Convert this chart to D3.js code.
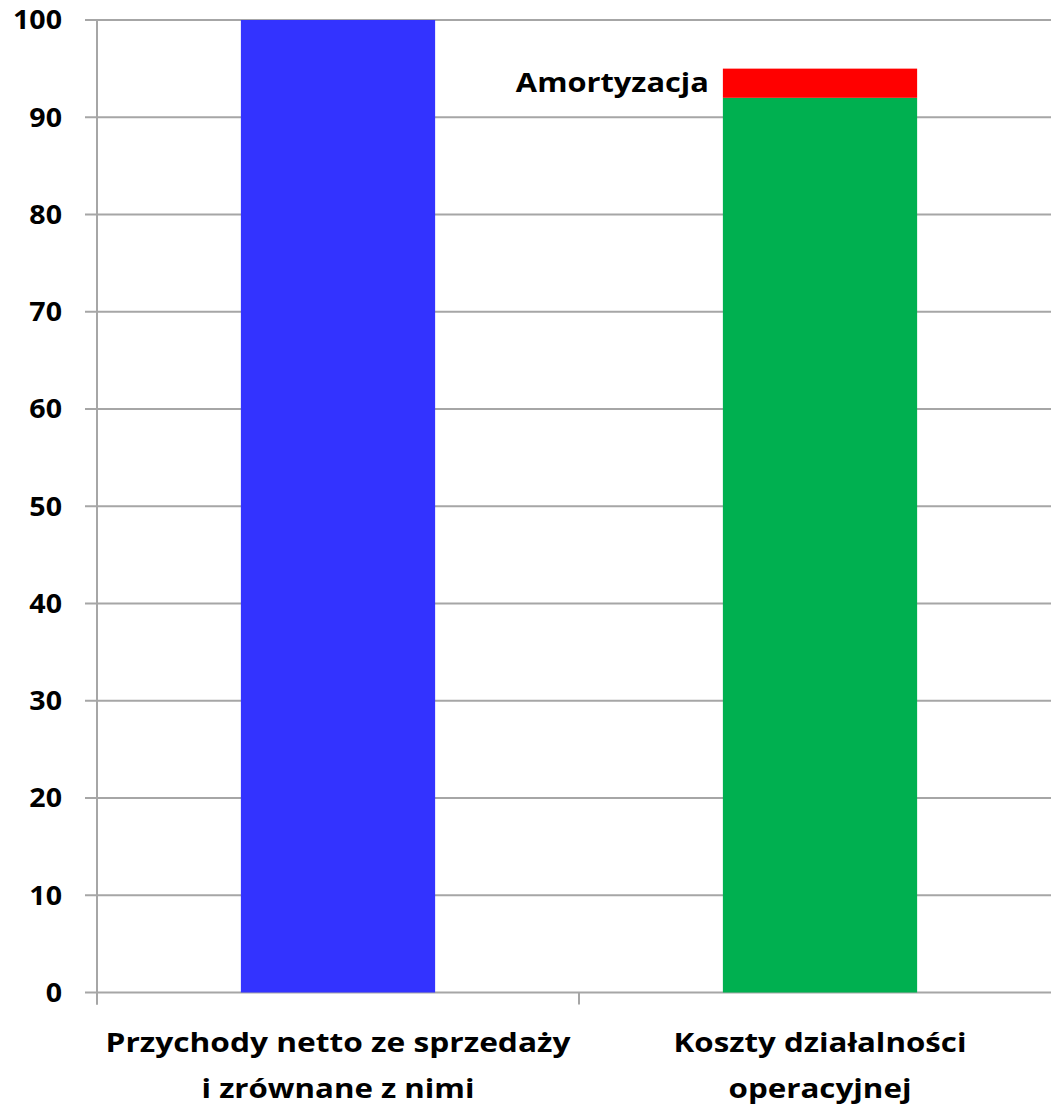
<!DOCTYPE html>
<html>
<head>
<meta charset="utf-8">
<script src="https://cdn.jsdelivr.net/npm/d3@7"></script>
<style>
  html, body { margin: 0; padding: 0; background: #fff; overflow: hidden; }
  svg { display: block; }
  text { font-family: "Open Sans", Lato, sans-serif; font-weight: bold; fill: #000; }
</style>
</head>
<body>
<svg id="chart" width="1051" height="1107"></svg>
<script>
const categories = ["Przychody netto ze sprzedaży|i zrównane z nimi", "Koszty działalności|operacyjnej"];
const baseValues = [100, 92];
const amortValues = [0, 3];
const amortLabel = "Amortyzacja";
const yTicks = [0, 10, 20, 30, 40, 50, 60, 70, 80, 90, 100];

(function () {
const svg = d3.select("#chart");
const pLeft = 97, pRight = 1061, pTop = 20, pBottom = 992.5;
const fs = 27;

const x = d3.scaleBand().domain(categories).range([pLeft, pRight]).paddingInner(0.597).paddingOuter(0.2985);
const y = d3.scaleLinear().domain([0, 100]).range([pBottom, pTop]);

// gridlines
svg.append("g").selectAll("line").data(yTicks).join("line")
  .attr("x1", pLeft - 12).attr("x2", 1051 + 20)
  .attr("y1", d => y(d)).attr("y2", d => y(d))
  .attr("stroke", "#a6a6a6").attr("stroke-width", 2);

// y axis line
svg.append("line").attr("x1", pLeft).attr("x2", pLeft).attr("y1", pTop).attr("y2", pBottom + 12)
  .attr("stroke", "#a6a6a6").attr("stroke-width", 2);

// x category ticks
const step = x.step();
const bounds = categories.map(c => x(c) - (step - x.bandwidth()) / 2).concat([pRight]);
svg.append("g").selectAll("line").data(bounds).join("line")
  .attr("x1", d => d).attr("x2", d => d)
  .attr("y1", pBottom).attr("y2", pBottom + 12)
  .attr("stroke", "#a6a6a6").attr("stroke-width", 2);

// y tick labels
const tickTexts = svg.append("g").selectAll("text").data(yTicks).join("text")
  .attr("x", 62).attr("y", d => y(d)).attr("dy", "0.35em")
  .attr("text-anchor", "end").attr("font-size", fs)
  .text(d => d);
let kTick = 1;
tickTexts.each(function (d) { if (d === 100) kTick = 49 / this.getComputedTextLength(); });
tickTexts.each(function () {
  const w = this.getComputedTextLength();
  d3.select(this).attr("textLength", w * kTick).attr("lengthAdjust", "spacingAndGlyphs");
});

// bars
const colors = ["#3333ff", "#00b050"];
svg.append("g").selectAll("rect").data(categories).join("rect")
  .attr("x", d => x(d)).attr("width", x.bandwidth())
  .attr("y", (d, i) => y(baseValues[i]))
  .attr("height", (d, i) => y(0) - y(baseValues[i]))
  .attr("fill", (d, i) => colors[i]);

svg.append("g").selectAll("rect").data(categories.filter((d, i) => amortValues[i] > 0)).join("rect")
  .attr("x", d => x(d)).attr("width", x.bandwidth())
  .attr("y", d => { const i = categories.indexOf(d); return y(baseValues[i] + amortValues[i]); })
  .attr("height", d => { const i = categories.indexOf(d); return y(baseValues[i]) - y(baseValues[i] + amortValues[i]); })
  .attr("fill", "#ff0000");

// amort label
categories.forEach((c, i) => {
  if (amortValues[i] > 0) {
    svg.append("text")
      .attr("x", x(c) - 14)
      .attr("y", y(baseValues[i] + amortValues[i] / 2) - 1)
      .attr("dy", "0.35em")
      .attr("text-anchor", "end")
      .attr("font-size", fs)
      .attr("textLength", 193)
      .attr("lengthAdjust", "spacingAndGlyphs")
      .text(amortLabel);
  }
});

// category labels
const lineWidths = [[465, 273], [293, 183]];
const baselines = [1052, 1098];
categories.forEach((c, i) => {
  const cx = x(c) + x.bandwidth() / 2;
  c.split("|").forEach((ln, j) => {
    svg.append("text")
      .attr("x", cx).attr("y", baselines[j])
      .attr("text-anchor", "middle").attr("font-size", fs)
      .attr("textLength", lineWidths[i][j])
      .attr("lengthAdjust", "spacingAndGlyphs")
      .text(ln);
  });
});
})();
</script>
</body>
</html>
